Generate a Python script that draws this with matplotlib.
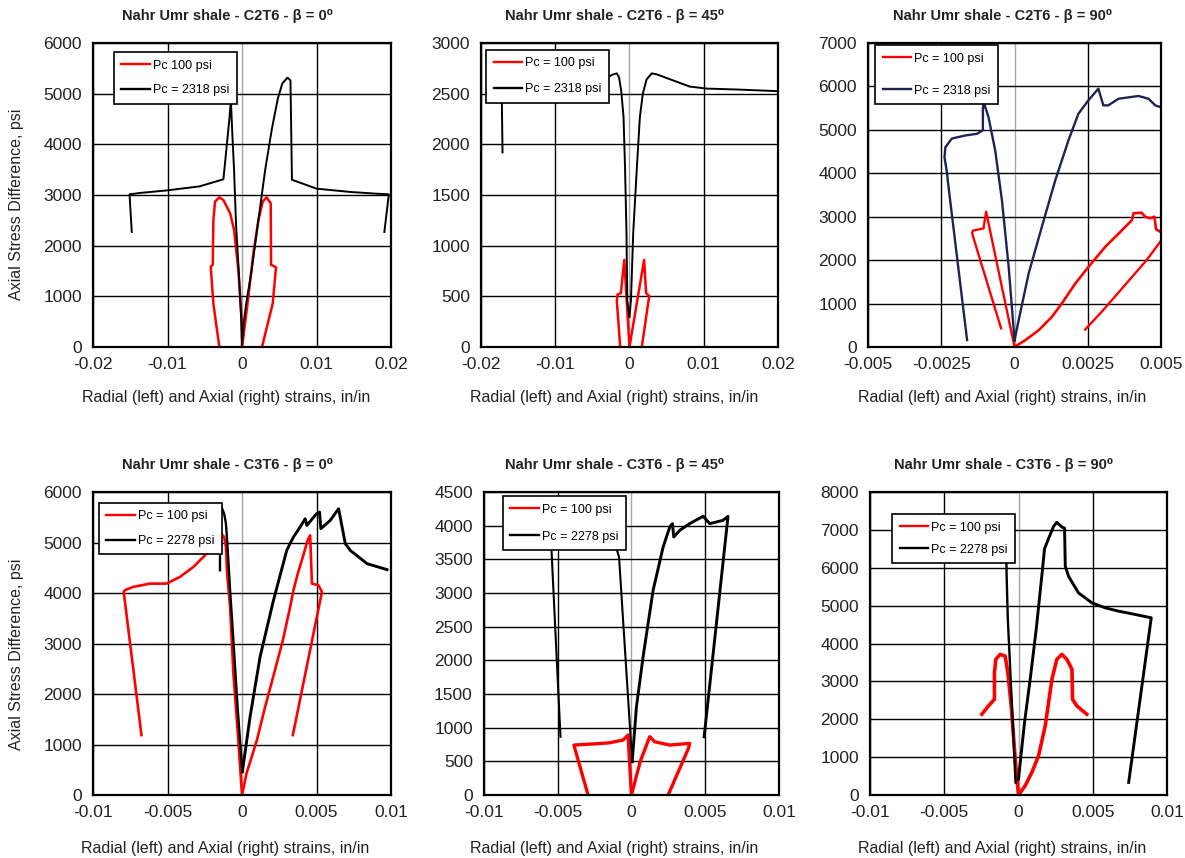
import matplotlib
matplotlib.use("Agg")
import matplotlib.pyplot as plt

plt.rcParams["font.family"] = ["Liberation Sans", "DejaVu Sans"]

RED = "#ff0000"
BLACK = "#000000"
NAVY = "#1b2453"

# ---- Panel 1 : C2T6 - beta 0 ----
c2t6_0_red_rad_x = [0, -0.00004, -0.0005, -0.00107, -0.0016, -0.0025, -0.00305, -0.00362, -0.00385, -0.00393, -0.0042, -0.00385, -0.00305]
c2t6_0_red_rad_y = [0, 530, 1520, 2310, 2640, 2900, 2955, 2870, 2500, 1620, 1585, 860, 0]
c2t6_0_red_ax_x = [0, 0.00018, 0.00085, 0.00152, 0.00219, 0.00278, 0.00331, 0.00385, 0.0039, 0.00456, 0.00412, 0.00268]
c2t6_0_red_ax_y = [0, 200, 990, 1850, 2500, 2870, 2955, 2835, 1620, 1575, 860, 0]
c2t6_0_blk_rad_x = [0, -0.0001, -0.0004, -0.0008, -0.00107, -0.0013, -0.0015, -0.0017, -0.0025, -0.0057, -0.0101, -0.0137, -0.0151, -0.0148]
c2t6_0_blk_rad_y = [50, 500, 1400, 2400, 3490, 4200, 4870, 4500, 3310, 3170, 3090, 3040, 3013, 2270]
c2t6_0_blk_ax_x = [0, 0.0002, 0.0006, 0.0013, 0.0021, 0.0031, 0.0040, 0.0048, 0.0054, 0.0061, 0.0065, 0.0067, 0.0100, 0.0145, 0.0181, 0.0197, 0.0191]
c2t6_0_blk_ax_y = [50, 450, 900, 1520, 2400, 3490, 4300, 4900, 5200, 5316, 5260, 3300, 3125, 3060, 3025, 3013, 2270]

# ---- Panel 2 : C2T6 - beta 45 ----
c2t6_45_red_rad_x = [0, -0.0007, -0.00116, -0.0016, -0.0017, -0.00125]
c2t6_45_red_rad_y = [0, 860, 530, 520, 450, 0]
c2t6_45_red_ax_x = [0, 0.00197, 0.00224, 0.0027, 0.00255, 0.00166]
c2t6_45_red_ax_y = [0, 860, 530, 500, 450, 0]
c2t6_45_blk_rad_x = [0, -0.0003, -0.0004, -0.0006, -0.0008, -0.0011, -0.0014, -0.0017, -0.0022, -0.003, -0.0044, -0.007, -0.010, -0.014, -0.0172, -0.0171]
c2t6_45_blk_rad_y = [300, 460, 1118, 1776, 2270, 2520, 2660, 2700, 2690, 2660, 2610, 2560, 2530, 2510, 2480, 1920]
c2t6_45_blk_ax_x = [0, 0.0002, 0.0005, 0.001, 0.0014, 0.0018, 0.0023, 0.003, 0.0037, 0.0059, 0.0081, 0.0104, 0.0148, 0.0198]
c2t6_45_blk_ax_y = [300, 460, 1118, 1776, 2270, 2500, 2640, 2700, 2690, 2630, 2570, 2550, 2540, 2525]

# ---- Panel 3 : C2T6 - beta 90 ----
c2t6_90_red_rad_x = [0, -0.0005, -0.00097, -0.00106, -0.00142, -0.00145, -0.00046]
c2t6_90_red_rad_y = [0, 1600, 3115, 2730, 2680, 2620, 430]
c2t6_90_red_ax_x = [0, 0.00036, 0.00082, 0.00127, 0.00161, 0.00207, 0.00252, 0.00309, 0.00355, 0.004, 0.00406, 0.00434, 0.00445, 0.00463, 0.00477, 0.00483, 0.00497]
c2t6_90_red_ax_y = [0, 153, 384, 690, 998, 1458, 1842, 2302, 2609, 2916, 3078, 3092, 3000, 2963, 3000, 2710, 2655]
c2t6_90_red_unl_x = [0.00241, 0.00303, 0.00451, 0.0051]
c2t6_90_red_unl_y = [400, 852, 2003, 2540]
c2t6_90_nvy_rad_x = [0, -0.0002, -0.00043, -0.00066, -0.00089, -0.001, -0.00105, -0.00108, -0.00108, -0.00128, -0.00168, -0.00214, -0.00236, -0.00239, -0.0023, -0.00228, -0.00162]
c2t6_90_nvy_rad_y = [150, 1842, 3377, 4528, 5296, 5526, 5650, 5500, 4990, 4910, 4870, 4800, 4600, 4370, 3990, 3840, 161]
c2t6_90_nvy_ax_x = [0, 0.00014, 0.00048, 0.00093, 0.00139, 0.00184, 0.00218, 0.00252, 0.00286, 0.00303, 0.0032, 0.00355, 0.00423, 0.00457, 0.0048, 0.00497]
c2t6_90_nvy_ax_y = [150, 614, 1688, 2763, 3837, 4758, 5372, 5679, 5948, 5564, 5564, 5717, 5779, 5717, 5564, 5526]

# ---- Panel 4 : C3T6 - beta 0 ----
c3t6_0_red_rad_x = [0, -0.00025, -0.00058, -0.0008, -0.001, -0.00108, -0.0012, -0.00141, -0.0017, -0.00238, -0.00327, -0.00417, -0.00507, -0.00619, -0.00731, -0.00787, -0.00794, -0.00675]
c3t6_0_red_rad_y = [0, 1088, 2407, 3725, 4385, 4912, 5110, 5176, 4978, 4780, 4516, 4319, 4187, 4187, 4121, 4055, 4022, 1187]
c3t6_0_red_ax_x = [0, 0.0003, 0.001, 0.00155, 0.00215, 0.00274, 0.00323, 0.00345, 0.00374, 0.00408, 0.0044, 0.00457, 0.00469, 0.00513, 0.00536, 0.00341]
c3t6_0_red_ax_y = [0, 428, 1088, 1747, 2407, 3066, 3725, 4055, 4385, 4714, 5044, 5143, 4187, 4154, 4022, 1187]
c3t6_0_blk_rad_x = [0.00002, -0.0003, -0.00058, -0.0008, -0.001, -0.00108, -0.0012, -0.00137, -0.00148, -0.00148]
c3t6_0_blk_rad_y = [460, 1747, 3066, 4055, 5044, 5374, 5571, 5700, 5300, 4451]
c3t6_0_blk_ax_x = [0.00002, 0.00054, 0.00121, 0.00211, 0.003, 0.00345, 0.0039, 0.00424, 0.00435, 0.005, 0.0052, 0.00529, 0.00592, 0.00648, 0.00693, 0.00726, 0.00839, 0.00973]
c3t6_0_blk_ax_y = [460, 1550, 2736, 3857, 4846, 5110, 5308, 5472, 5340, 5571, 5604, 5275, 5440, 5670, 4978, 4846, 4582, 4464]

# ---- Panel 5 : C3T6 - beta 45 ----
c3t6_45_red_rad_x = [0, -0.00023, -0.00057, -0.0015, -0.0025, -0.0033, -0.0039, -0.00384, -0.00294]
c3t6_45_red_rad_y = [0, 891, 817, 775, 760, 750, 742, 694, 0]
c3t6_45_red_ax_x = [0, 0.0006, 0.00124, 0.00158, 0.0026, 0.00395, 0.00388, 0.00249]
c3t6_45_red_ax_y = [0, 500, 866, 791, 742, 767, 700, 0]
c3t6_45_blk_rad_x = [0.00005, -0.00084, -0.0015, -0.0025, -0.004, -0.0055, -0.00481]
c3t6_45_blk_rad_y = [495, 3536, 4000, 4080, 4050, 4000, 865]
c3t6_45_blk_ax_x = [0.00005, 0.00034, 0.00079, 0.00147, 0.00215, 0.0026, 0.00278, 0.00287, 0.00328, 0.00395, 0.00486, 0.00531, 0.00621, 0.00655, 0.00493]
c3t6_45_blk_ax_y = [495, 1310, 2052, 3041, 3684, 3981, 4031, 3833, 3932, 4031, 4140, 4031, 4080, 4140, 865]

# ---- Panel 6 : C3T6 - beta 90 ----
c3t6_90_red_rad_x = [0, -0.00022, -0.00049, -0.00072, -0.0009, -0.00124, -0.00153, -0.00162, -0.00162, -0.00202, -0.00247]
c3t6_90_red_rad_y = [0, 948, 2353, 3231, 3670, 3714, 3582, 3231, 2529, 2353, 2134]
c3t6_90_red_ax_x = [0, 0.00045, 0.0009, 0.00135, 0.0018, 0.00225, 0.00258, 0.00292, 0.00326, 0.0036, 0.00364, 0.00393, 0.0046]
c3t6_90_red_ax_y = [0, 246, 597, 1036, 1826, 3055, 3582, 3714, 3582, 3319, 2529, 2353, 2134]
c3t6_90_blk_rad_x = [-0.0002, -0.0004, -0.00058, -0.00072, -0.0008, -0.00085, -0.0009]
c3t6_90_blk_rad_y = [330, 2000, 3500, 4640, 5800, 7000, 7400]
c3t6_90_blk_ax_x = [0, 0.0004, 0.0008, 0.0012, 0.0016, 0.00175, 0.002, 0.00236, 0.00258, 0.00292, 0.0031, 0.00315, 0.00337, 0.00404, 0.00494, 0.00584, 0.00674, 0.00787, 0.00894, 0.00742]
c3t6_90_blk_ax_y = [420, 1900, 3100, 4400, 5900, 6500, 6750, 7094, 7199, 7076, 7050, 6040, 5777, 5338, 5075, 4943, 4855, 4767, 4680, 334]

# axis ticks
xt_02 = [-0.02, -0.01, 0, 0.01, 0.02]
xl_02 = ["-0.02", "-0.01", "0", "0.01", "0.02"]
xt_005 = [-0.005, -0.0025, 0, 0.0025, 0.005]
xl_005 = ["-0.005", "-0.0025", "0", "0.0025", "0.005"]
xt_01 = [-0.01, -0.005, 0, 0.005, 0.01]
xl_01 = ["-0.01", "-0.005", "0", "0.005", "0.01"]

XLAB = "Radial (left) and Axial (right) strains, in/in"
YLAB = "Axial Stress Difference, psi"

fig = plt.figure(figsize=(11.85, 8.58), dpi=100)


def make_panel(rect, xticks, xlabels, ymax, ystep, curves, legend_labels, leg_xy, leg_space):
    ax = fig.add_axes(rect)
    ax.set_xlim(xticks[0], xticks[-1])
    ax.set_ylim(0, ymax)
    ax.set_xticks(xticks)
    ax.set_xticklabels(xlabels)
    ax.set_yticks(range(0, ymax + 1, ystep))
    ax.tick_params(length=0, labelsize=12.5, labelcolor="#222222")
    ax.tick_params(axis="y", pad=8)
    ax.tick_params(axis="x", pad=7)
    ax.grid(True, color="black", lw=1.0)
    for tick, loc in zip(ax.xaxis.get_major_ticks(), xticks):
        if loc == 0:
            tick.gridline.set_color("#a6a6a6")
    for s in ax.spines.values():
        s.set_linewidth(1.6)
    handles = {}
    for x, y, color, lw, key in curves:
        ln, = ax.plot(x, y, color=color, lw=lw)
        handles.setdefault(key, ln)
    hs = [plt.Line2D([], [], color=handles[k].get_color(), lw=1.7) for k in sorted(handles)]
    leg = ax.legend(hs, legend_labels, loc="upper left", bbox_to_anchor=leg_xy,
                    borderaxespad=0, fancybox=False, framealpha=1, edgecolor="black",
                    fontsize=9, handlelength=2.3, handletextpad=0.2,
                    labelspacing=leg_space, borderpad=0.6)
    leg.get_frame().set_linewidth(1.2)
    return ax


p1 = make_panel([0.0785, 0.5956, 0.2515, 0.3543], xt_02, xl_02, 6000, 1000,
                [(c2t6_0_red_rad_x, c2t6_0_red_rad_y, RED, 1.8, 0),
                 (c2t6_0_red_ax_x, c2t6_0_red_ax_y, RED, 1.8, 0),
                 (c2t6_0_blk_rad_x, c2t6_0_blk_rad_y, BLACK, 1.4, 1),
                 (c2t6_0_blk_ax_x, c2t6_0_blk_ax_y, BLACK, 1.4, 1)],
                ["Pc 100 psi", "Pc = 2318 psi"], (0.07, 0.97), 1.0)

p2 = make_panel([0.4059, 0.5956, 0.2506, 0.3543], xt_02, xl_02, 3000, 500,
                [(c2t6_45_red_rad_x, c2t6_45_red_rad_y, RED, 1.8, 0),
                 (c2t6_45_red_ax_x, c2t6_45_red_ax_y, RED, 1.8, 0),
                 (c2t6_45_blk_rad_x, c2t6_45_blk_rad_y, BLACK, 1.4, 1),
                 (c2t6_45_blk_ax_x, c2t6_45_blk_ax_y, BLACK, 1.4, 1)],
                ["Pc = 100 psi", "Pc = 2318 psi"], (0.017, 0.977), 1.1)

p3 = make_panel([0.7325, 0.5956, 0.2473, 0.3543], xt_005, xl_005, 7000, 1000,
                [(c2t6_90_red_rad_x, c2t6_90_red_rad_y, RED, 1.7, 0),
                 (c2t6_90_red_ax_x, c2t6_90_red_ax_y, RED, 1.9, 0),
                 (c2t6_90_red_unl_x, c2t6_90_red_unl_y, RED, 1.7, 0),
                 (c2t6_90_nvy_rad_x, c2t6_90_nvy_rad_y, NAVY, 1.7, 1),
                 (c2t6_90_nvy_ax_x, c2t6_90_nvy_ax_y, NAVY, 1.7, 1)],
                ["Pc = 100 psi", "Pc = 2318 psi"], (0.024, 0.993), 1.6)

p4 = make_panel([0.0785, 0.0734, 0.2515, 0.3531], xt_01, xl_01, 6000, 1000,
                [(c3t6_0_red_rad_x, c3t6_0_red_rad_y, RED, 1.9, 0),
                 (c3t6_0_red_ax_x, c3t6_0_red_ax_y, RED, 1.9, 0),
                 (c3t6_0_blk_rad_x, c3t6_0_blk_rad_y, BLACK, 1.7, 1),
                 (c3t6_0_blk_ax_x, c3t6_0_blk_ax_y, BLACK, 2.1, 1)],
                ["Pc = 100 psi", "Pc = 2278 psi"], (0.02, 0.964), 1.0)

p5 = make_panel([0.4084, 0.0734, 0.2489, 0.3531], xt_01, xl_01, 4500, 500,
                [(c3t6_45_red_rad_x, c3t6_45_red_rad_y, RED, 2.4, 0),
                 (c3t6_45_red_ax_x, c3t6_45_red_ax_y, RED, 2.4, 0),
                 (c3t6_45_blk_rad_x, c3t6_45_blk_rad_y, BLACK, 1.5, 1),
                 (c3t6_45_blk_ax_x, c3t6_45_blk_ax_y, BLACK, 2.1, 1)],
                ["Pc = 100 psi", "Pc = 2278 psi"], (0.064, 0.987), 1.2)

p6 = make_panel([0.7342, 0.0734, 0.2506, 0.3531], xt_01, xl_01, 8000, 1000,
                [(c3t6_90_red_rad_x, c3t6_90_red_rad_y, RED, 2.6, 0),
                 (c3t6_90_red_ax_x, c3t6_90_red_ax_y, RED, 2.6, 0),
                 (c3t6_90_blk_rad_x, c3t6_90_blk_rad_y, BLACK, 1.7, 1),
                 (c3t6_90_blk_ax_x, c3t6_90_blk_ax_y, BLACK, 2.1, 1)],
                ["Pc = 100 psi", "Pc = 2278 psi"], (0.074, 0.927), 0.8)

# titles, axis labels
titles = [("C2T6", "0", 228, 16), ("C2T6", "45", 615, 16), ("C2T6", "90", 1003, 16),
          ("C3T6", "0", 228, 465), ("C3T6", "45", 615, 465), ("C3T6", "90", 1004, 465)]
W, H = 1185.0, 858.0
for core, ang, px, py in titles:
    fig.text(px / W, 1 - py / H, f"Nahr Umr shale - {core} - \u03b2 = {ang}\u2070",
             ha="center", va="center", fontsize=10.5, fontweight="bold", color="#222222")

for px, py in [(226, 398), (614, 398), (1002, 398), (225, 848), (614, 848), (1002, 848)]:
    fig.text(px / W, 1 - py / H, XLAB, ha="center", va="center", fontsize=11.5, color="#222222")

for py in [204, 654]:
    fig.text(17 / W, 1 - py / H, YLAB, ha="center", va="center", rotation=90,
             fontsize=11.5, color="#222222")

fig.savefig("out.png", dpi=100, facecolor="white")
